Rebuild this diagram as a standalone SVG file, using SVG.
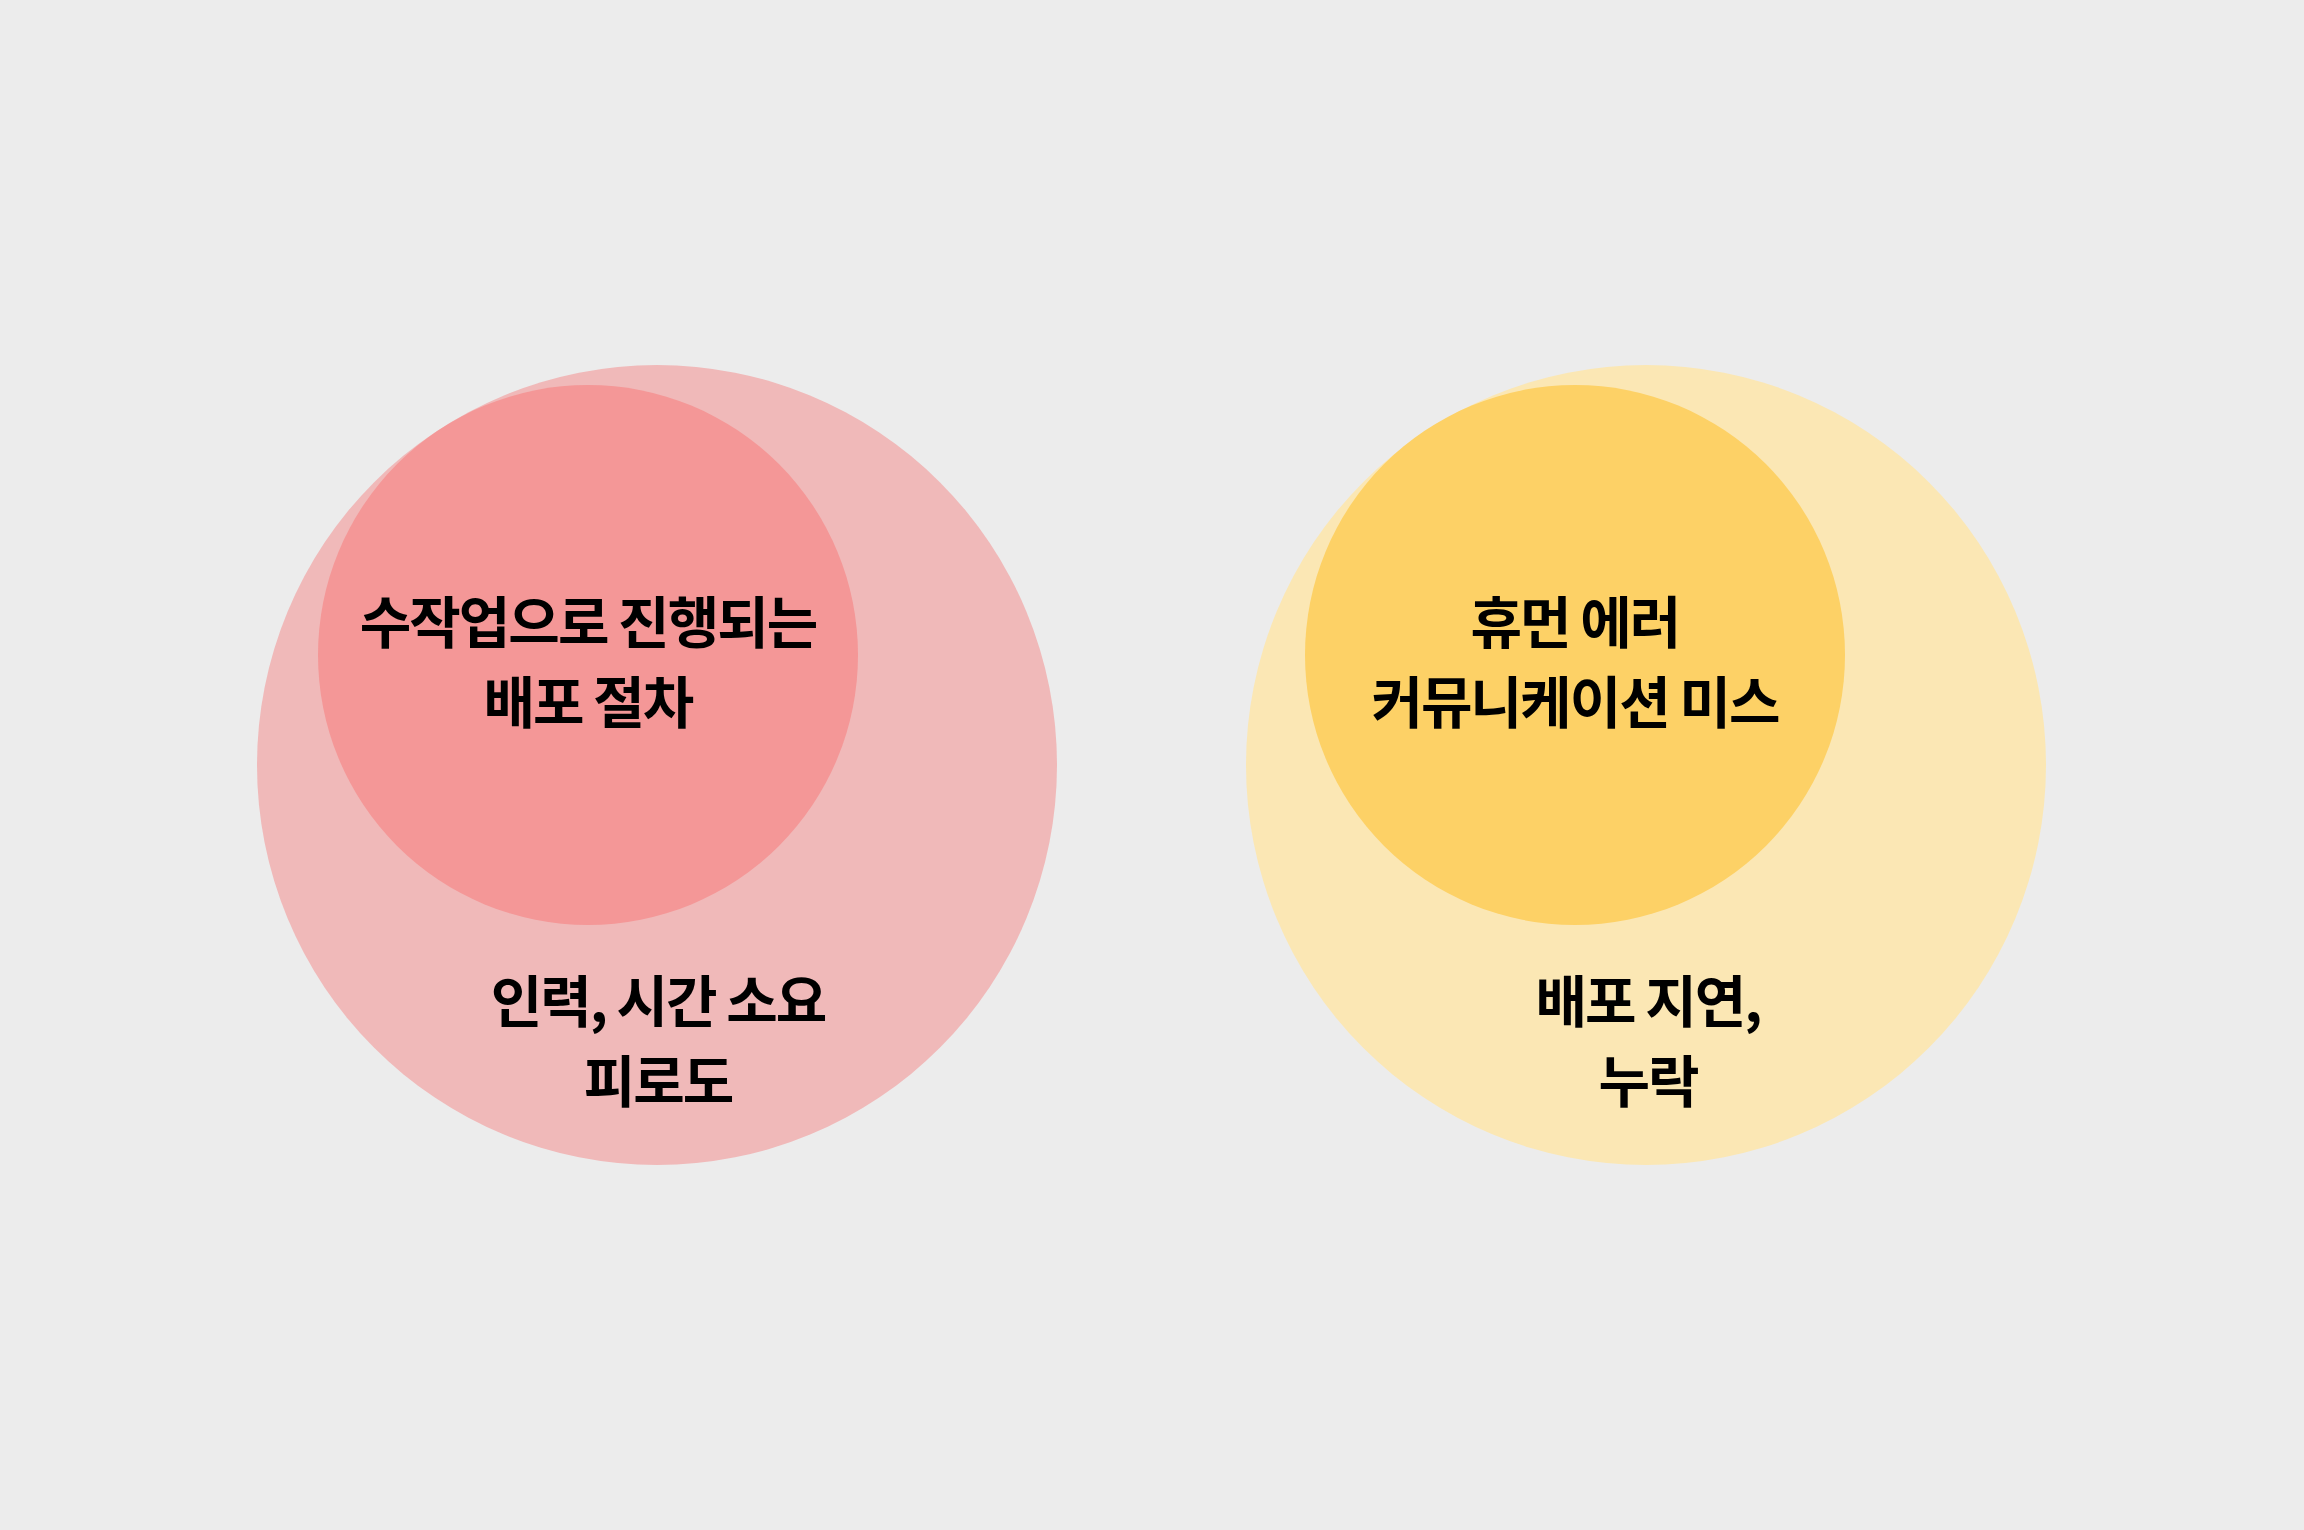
<svg xmlns="http://www.w3.org/2000/svg" width="2304" height="1530" viewBox="0 0 2304 1530">
  <style>
    .lbl { font-family: "Noto Sans CJK KR", "Noto Sans", sans-serif; font-weight: 700; font-size: 56px; fill: #000000; text-anchor: middle; letter-spacing: -2px; }
    .outerRed { fill: #F0B9B9; }
    .innerRed { fill: #F49797; }
    .outerYel { fill: #FBE7B4; }
    .innerYel { fill: #FDD166; }
  </style>
  <rect x="0" y="0" width="2304" height="1530" fill="#ECECEC"/>
  <g id="left-outer">
    <circle class="outerRed" cx="657" cy="765" r="400"/>
    <text class="lbl" x="658" y="1022">인력, 시간 소요</text>
    <text class="lbl" x="658" y="1102">피로도</text>
  </g>
  <g id="left-inner">
    <circle class="innerRed" cx="588" cy="655" r="270"/>
    <text class="lbl" x="588" y="643">수작업으로 진행되는</text>
    <text class="lbl" x="588" y="723">배포 절차</text>
  </g>
  <g id="right-outer">
    <circle class="outerYel" cx="1646" cy="765" r="400"/>
    <text class="lbl" x="1648" y="1022">배포 지연,</text>
    <text class="lbl" x="1648" y="1102">누락</text>
  </g>
  <g id="right-inner">
    <circle class="innerYel" cx="1575" cy="655" r="270"/>
    <text class="lbl" x="1575" y="643">휴먼 에러</text>
    <text class="lbl" x="1575" y="723">커뮤니케이션 미스</text>
  </g>
  <g id="connectors"/>
</svg>
